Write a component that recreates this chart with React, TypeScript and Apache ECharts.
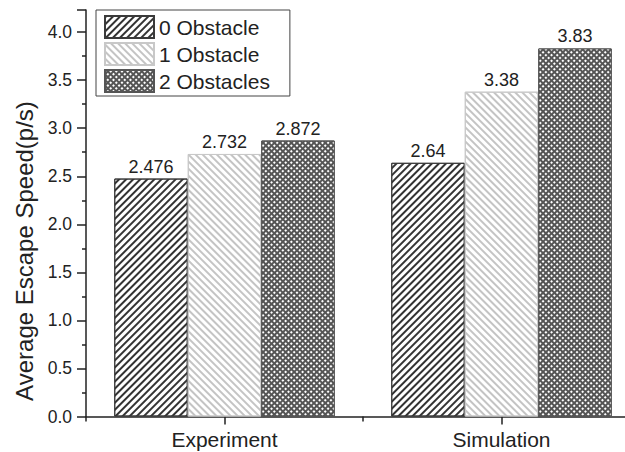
import React, { useEffect, useRef } from "react";
import * as echarts from "echarts";

const categories = ["Experiment", "Simulation"];
const seriesNames = ["0 Obstacle", "1 Obstacle", "2 Obstacles"];
const obstacle0 = [2.476, 2.64];
const obstacle1 = [2.732, 3.38];
const obstacle2 = [2.872, 3.83];
const yTicks = ["0.0", "0.5", "1.0", "1.5", "2.0", "2.5", "3.0", "3.5", "4.0"];
const yTitle = "Average Escape Speed(p/s)";

const FONT = "Liberation Sans, Arial, sans-serif";

export default function App() {
  const ref = useRef<HTMLDivElement>(null);
  useEffect(() => {
    document.body.style.margin = "0";
    const chart = echarts.init(ref.current!, null, { renderer: "svg" });
    const label = {
      show: true,
      position: "top",
      distance: 3,
      color: "#222",
      fontSize: 18,
      fontFamily: FONT,
    };
    const barW = 73.5;
    chart.setOption({
      animation: false,
      backgroundColor: "#fff",
      textStyle: { fontFamily: FONT },
      grid: {
        left: 86,
        top: 10,
        bottom: 35.5,
        width: 554,
        containLabel: false,
        outerBoundsMode: "none",
      },
      legend: {
        left: 96,
        top: 10,
        orient: "vertical",
        icon: "rect",
        itemWidth: 49,
        itemHeight: 22,
        itemGap: 3,
        padding: [5, 20, 3, 8],
        borderColor: "#444",
        borderWidth: 1,
        textStyle: { fontSize: 21, color: "#222", fontFamily: FONT },
        data: seriesNames,
      },
      graphic: [
        {
          type: "text",
          x: 24,
          y: 251,
          rotation: Math.PI / 2,
          style: {
            text: yTitle,
            fontSize: 24,
            fontFamily: FONT,
            fill: "#222",
            textAlign: "center",
            textVerticalAlign: "middle",
          },
        },
      ],
      xAxis: [
        {
          type: "category",
          data: categories,
          axisLine: { show: true, lineStyle: { color: "#222", width: 1.5 } },
          axisTick: { show: true, alignWithLabel: true, length: 8, lineStyle: { color: "#222", width: 1.5 } },
          axisLabel: { fontSize: 21, color: "#222", margin: 12, fontFamily: FONT },
        },
        {
          type: "category",
          data: categories,
          position: "bottom",
          axisLine: { show: false },
          axisTick: { show: true, length: 5, lineStyle: { color: "#222", width: 1.5 } },
          axisLabel: { show: false },
        },
      ],
      yAxis: {
        type: "value",
        min: 0,
        max: 4.23,
        interval: 0.5,
        axisLine: { show: true, lineStyle: { color: "#222", width: 1.5 } },
        axisTick: { show: true, length: 9, lineStyle: { color: "#222", width: 1.5 } },
        minorTick: { show: true, splitNumber: 2, length: 4, lineStyle: { color: "#222", width: 1.5 } },
        splitLine: { show: false },
        axisLabel: {
          fontSize: 17.5,
          color: "#222",
          fontFamily: FONT,
          margin: 14,
          showMaxLabel: false,
          formatter: (v: number) => {
            const s = v.toFixed(1);
            return yTicks.indexOf(s) >= 0 ? s : "";
          },
        },
      },
      series: [
        {
          name: seriesNames[0],
          type: "bar",
          data: obstacle0,
          barWidth: barW,
          barGap: "0%",
          label,
          itemStyle: {
            color: "#ffffff",
            borderColor: "#3a3a3a",
            borderWidth: 1,
            decal: {
              symbol: "rect",
              symbolSize: 1,
              color: "#333",
              dashArrayX: [1, 0],
              dashArrayY: [1.3, 2.7],
              rotation: -Math.PI / 4,
            },
          },
        },
        {
          name: seriesNames[1],
          type: "bar",
          data: obstacle1,
          barWidth: barW,
          barGap: "0%",
          label,
          itemStyle: {
            color: "#ffffff",
            borderColor: "#c8c8c8",
            borderWidth: 1,
            decal: {
              symbol: "rect",
              symbolSize: 1,
              color: "#c4c4c4",
              dashArrayX: [1, 0],
              dashArrayY: [1.1, 2.7],
              rotation: Math.PI / 4,
            },
          },
        },
        {
          name: seriesNames[2],
          type: "bar",
          data: obstacle2,
          barWidth: barW,
          barGap: "0%",
          label,
          itemStyle: {
            color: "#555555",
            borderColor: "#555",
            borderWidth: 1,
            decal: {
              symbol: "rect",
              symbolSize: 1,
              color: "#ffffff",
              dashArrayX: [2, 1.6],
              dashArrayY: [2, 1.6],
              rotation: Math.PI / 4,
            },
          },
        },
      ],
    });
    return () => chart.dispose();
  }, []);
  return <div ref={ref} style={{ width: 625, height: 452 }} />;
}
